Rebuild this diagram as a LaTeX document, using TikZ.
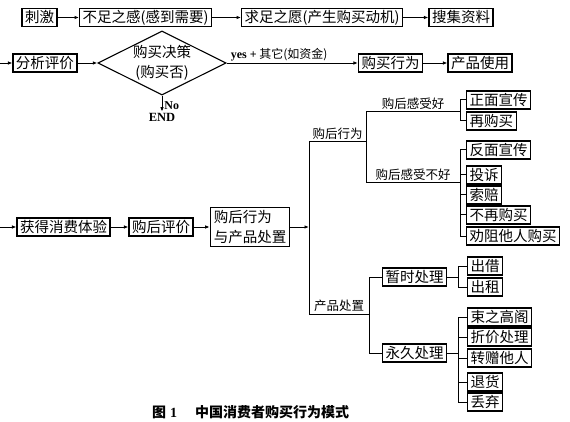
\documentclass[tikz,border=0pt]{standalone}
\usepackage{fontspec}
\setmainfont{Noto Sans CJK SC}
\newfontfamily\latf{Liberation Serif}
\usetikzlibrary{arrows.meta,shapes.geometric}
\tikzset{
  box/.style={draw,line width=1.1pt,inner xsep=3pt,inner ysep=0pt,minimum height=18pt,
    text height=12.5pt,text depth=1.5pt,font=\fontsize{14.5}{16}\selectfont},
  lbl/.style={inner sep=1.5pt,font=\fontsize{12.5}{14}\selectfont},
  arr/.style={line width=0.9pt,-{Latex[length=4.5pt,width=3.5pt]}},
  ln/.style={line width=1pt}
}
\begin{document}
\begin{tikzpicture}[x=1pt,y=-1pt]
\useasboundingbox (0,0) rectangle (570,422);
% row 1
\node[box] (ciji) at (39.5,17.5) {刺激};
\node[box] (buzu) at (145.5,17.5) {不足之感(感到需要)};
\node[box] (qiuzu) at (322,17.5) {求足之愿(产生购买动机)};
\node[box] (souji) at (461,17.5) {搜集资料};
\draw[arr] (ciji) -- (buzu);
\draw[arr] (buzu) -- (qiuzu);
\draw[arr] (qiuzu) -- (souji);

% row 2
\coordinate (in1) at (0,63);
\node[box] (fenxi) at (45,63) {分析评价};
\node[draw,line width=1.1pt,shape=diamond,aspect=2,inner sep=0pt,align=center,
  font=\fontsize{14.5}{20}\selectfont] (juece) at (162,63) {购买决策\\(购买否)};
\node[inner sep=1pt,font=\latf\bfseries\fontsize{12.5}{14}\selectfont] (jend) at (162,117) {END};
\node[box] (goumai) at (390.5,63) {购买行为};
\node[box] (shiyong) at (480,63) {产品使用};
\draw[arr] (in1) -- (fenxi);
\draw[arr] (fenxi) -- (juece);
\draw[arr] (juece) -- node[lbl,above,pos=0.4,font=\fontsize{12}{14}\selectfont]
  {{\latf\bfseries yes +} 其它(如资金)} (goumai);
\draw[arr] (goumai) -- (shiyong);
\draw[arr] (juece) -- node[right,pos=0.65,inner sep=2pt,font=\latf\bfseries\fontsize{12}{14}\selectfont] {No} (jend);

% row 3
\coordinate (in2) at (0,227);
\node[box] (huode) at (63.5,227) {获得消费体验};
\node[box] (pingjia) at (161,227) {购后评价};
\node[box,align=left,text height=,text depth=,inner xsep=3.5pt,inner ysep=2.5pt,
  font=\fontsize{14.5}{20}\selectfont] (chuzhi) at (250,227) {购后行为\\与产品处置};
\draw[arr] (in2) -- (huode);
\draw[arr] (huode) -- (pingjia);
\draw[arr] (pingjia) -- (chuzhi);

% tree
\coordinate (tr) at (309,227);
\coordinate (a1) at (366,142);
\coordinate (a2) at (369,314);
\coordinate (g1) at (460,112);
\coordinate (g2) at (460,183);
\coordinate (h1) at (458,277);
\coordinate (h2) at (458,353);
\draw[arr] (chuzhi) -- (tr);
\draw[ln] (tr) |- node[lbl,above,pos=0.75] {购后行为} (a1);
\draw[ln] (tr) |- node[lbl,above,pos=0.75] {产品处置} (a2);
\draw[ln] (a1) |- node[lbl,above,pos=0.75] {购后感受好} (g1);
\draw[ln] (a1) |- node[lbl,above,pos=0.75] {购后感受不好} (g2);

\node[box,anchor=west] (zmxc) at (466,100) {正面宣传};
\node[box,anchor=west] (zgm) at (466,121) {再购买};
\node[box,anchor=west] (fmxc) at (466,150) {反面宣传};
\node[box,anchor=west] (tous) at (466,175) {投诉};
\node[box,anchor=west] (suop) at (466,195) {索赔};
\node[box,anchor=west] (bzgm) at (466,215) {不再购买};
\node[box,anchor=west] (qz) at (466,236) {劝阻他人购买};
\foreach \b in {zmxc,zgm} \draw[ln] (g1) |- (\b.west);
\foreach \b in {fmxc,tous,suop,bzgm,qz} \draw[ln] (g2) |- (\b.west);

\node[box] (zscl) at (414.5,277) {暂时处理};
\node[box] (yjcl) at (414.5,353) {永久处理};
\draw[ln] (a2) |- (zscl);
\draw[ln] (a2) |- (yjcl);
\draw[ln] (zscl) -- (h1);
\draw[ln] (yjcl) -- (h2);
\node[box,anchor=west] (chujie) at (467,266) {出借};
\node[box,anchor=west] (chuzu) at (467,287) {出租};
\node[box,anchor=west] (sgg) at (467,317) {束之高阁};
\node[box,anchor=west] (zjcl) at (467,337) {折价处理};
\node[box,anchor=west] (zzty) at (467,358) {转赠他人};
\node[box,anchor=west] (tuih) at (467,382) {退货};
\node[box,anchor=west] (diuq) at (467,402) {丢弃};
\foreach \b in {chujie,chuzu} \draw[ln] (h1) |- (\b.west);
\foreach \b in {sgg,zjcl,zzty,tuih,diuq} \draw[ln] (h2) |- (\b.west);

% caption
\node[anchor=west,inner sep=0pt,font=\bfseries\fontsize{14}{16}\selectfont] (cap) at (152,412)
  {图\hspace{4pt}{\latf 1}\hspace{18pt}中国消费者购买行为模式};
\end{tikzpicture}
\end{document}
